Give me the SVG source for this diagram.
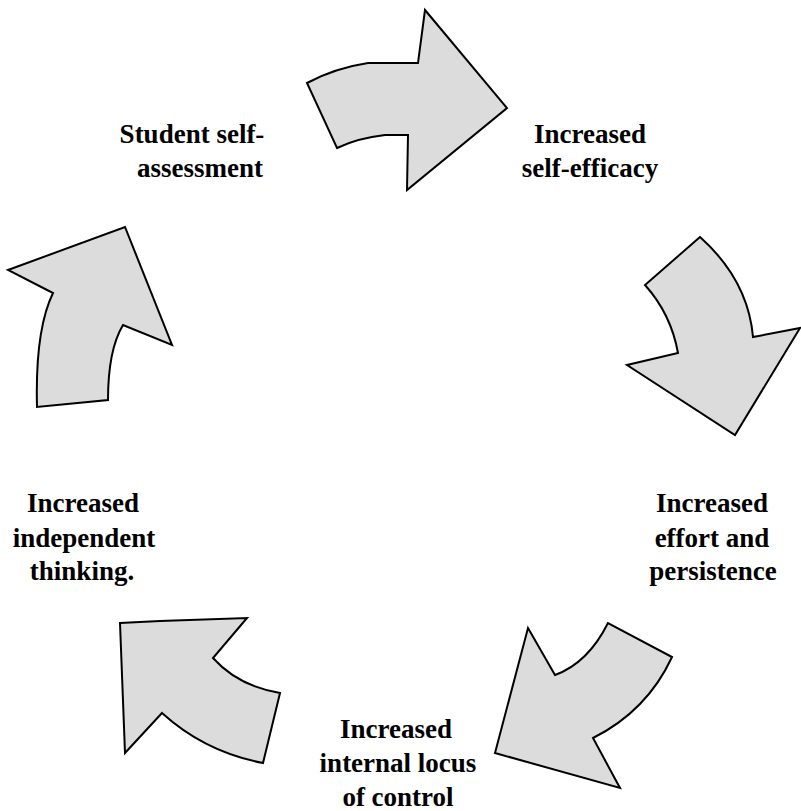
<svg xmlns="http://www.w3.org/2000/svg" width="801" height="811" viewBox="0 0 801 811">
<style>
.arrow{fill:#dcdcdc;stroke:#000;stroke-width:2;stroke-linejoin:miter}
.lbl{font-family:"Liberation Serif","Times New Roman",serif;font-weight:bold;font-size:27px;fill:#000;text-anchor:middle}
</style>
<rect width="801" height="811" fill="#fff"/>
<g id="connectors">
<path id="arrow-top" class="arrow" d="M307,83 Q335,68 368,63 L418,63 L425,10 L507,108 L407,190 L408,135 L385,135 Q358,138 337,148 Z"/>
<path id="arrow-right" class="arrow" d="M700,237 L645,285 Q671,314 678,353 L627,365 L735,435 L800,328 L753,337 Q748,280 700,237 Z"/>
<path id="arrow-bottom-right" class="arrow" d="M528,628 L555,675 Q588,663 608,623 L672,657 Q647,711 593,738 L620,788 L495,753 Z"/>
<path id="arrow-bottom-left" class="arrow" d="M120,623 L160,621 L247,618 L213,658 Q238,686 280,693 L263,763 Q205,752 162,713 L125,753 Z"/>
<path id="arrow-left" class="arrow" d="M8,270 L125,227 L172,345 L123,325 Q108,350 108,400 L37,407 Q35,330 53,293 Z"/>
</g>
<g id="node-self-assessment">
<text class="lbl" x="192" y="143">Student self-</text>
<text class="lbl" x="200" y="177">assessment</text>
</g>
<g id="node-self-efficacy">
<text class="lbl" x="590" y="143">Increased</text>
<text class="lbl" x="590" y="177">self-efficacy</text>
</g>
<g id="node-effort">
<text class="lbl" x="712" y="512">Increased</text>
<text class="lbl" x="712" y="547">effort and</text>
<text class="lbl" x="713" y="580">persistence</text>
</g>
<g id="node-locus">
<text class="lbl" x="396" y="738">Increased</text>
<text class="lbl" x="398" y="772">internal locus</text>
<text class="lbl" x="398" y="806">of control</text>
</g>
<g id="node-independent">
<text class="lbl" x="83" y="512">Increased</text>
<text class="lbl" x="84" y="547">independent</text>
<text class="lbl" x="82" y="580">thinking.</text>
</g>
</svg>
